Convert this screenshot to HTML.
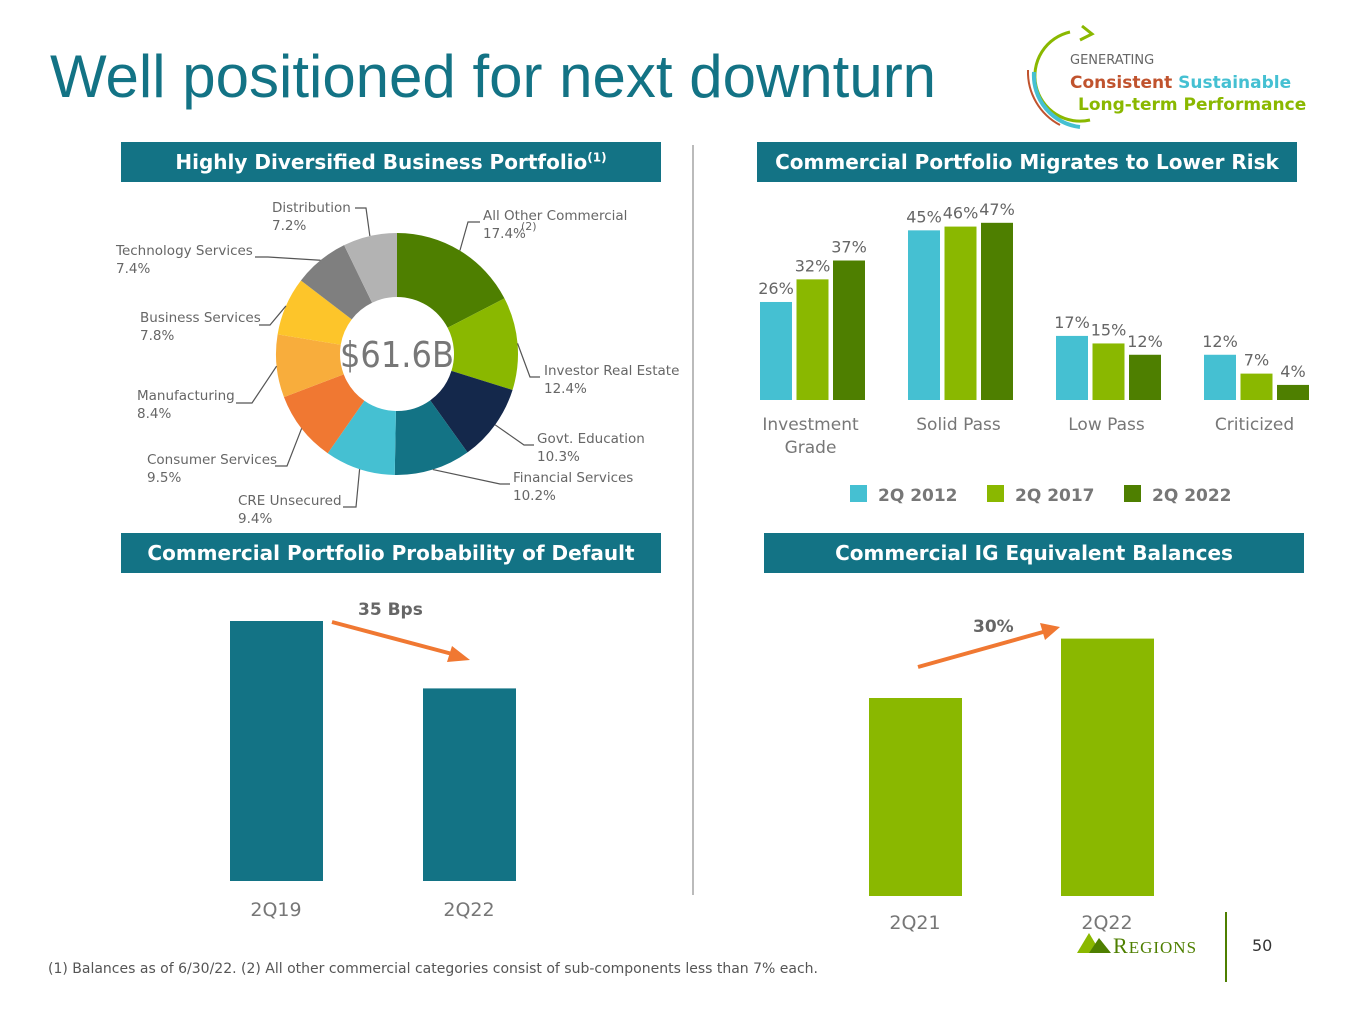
<!DOCTYPE html>
<html><head><meta charset="utf-8">
<style>
body{margin:0;width:1365px;height:1024px;background:#fff;font-family:"DejaVu Sans","Liberation Sans",sans-serif;position:relative;overflow:hidden}
.abs{position:absolute}
.hdr{position:absolute;background:#137385;color:#fff;font-weight:bold;font-size:20px;text-align:center;line-height:40px;height:40px}
</style></head><body>
<div class="abs" style="left:50px;top:42px;font-size:60px;color:#137385;font-family:'Liberation Sans',sans-serif;line-height:70px">Well positioned for next downturn</div>
<svg class="abs" style="left:1020px;top:20px" width="80" height="110">
<path d="M50,12 A45,45 0 1 0 70,100" fill="none" stroke="#8ab800" stroke-width="3"/>
<path d="M62,6 L72,14 L60,20" fill="none" stroke="#8ab800" stroke-width="3"/>
<path d="M14,52 A52,52 0 0 0 60,107" fill="none" stroke="#45c0d2" stroke-width="4"/>
<path d="M8,50 A60,60 0 0 0 40,105" fill="none" stroke="#c0532e" stroke-width="2"/>
</svg>
<div class="abs" style="left:1070px;top:50px;font-family:'DejaVu Sans',sans-serif;font-weight:bold;line-height:22px">
<div style="font-size:13px;color:#666;font-weight:normal">GENERATING</div>
<div style="font-size:17px"><span style="color:#c0532e">Consistent</span> <span style="color:#45c0d2">Sustainable</span></div>
<div style="font-size:17px;color:#8ab800;margin-left:8px">Long-term Performance</div></div>

<div class="hdr" style="left:121px;top:142px;width:540px">Highly Diversified Business Portfolio<sup style="font-size:12px;line-height:0">(1)</sup></div>
<div class="hdr" style="left:757px;top:142px;width:540px">Commercial Portfolio Migrates to Lower Risk</div>
<div class="hdr" style="left:121px;top:533px;width:540px">Commercial Portfolio Probability of Default</div>
<div class="hdr" style="left:764px;top:533px;width:540px">Commercial IG Equivalent Balances</div>
<div class="abs" style="left:692px;top:145px;width:2px;height:750px;background:#bbb"></div>

<svg class="abs" id="donut" style="left:0;top:0" width="700" height="530"></svg>
<svg class="abs" id="bars" style="left:700px;top:180px" width="665" height="340"></svg>
<svg class="abs" id="pd" style="left:0;top:590px" width="690" height="340"></svg>
<svg class="abs" id="ig" style="left:700px;top:590px" width="665" height="350"></svg>

<div class="abs" style="left:48px;top:961px;font-size:14px;color:#555">(1) Balances as of 6/30/22. (2) All other commercial categories consist of sub-components less than 7% each.</div>
<svg class="abs" style="left:1075px;top:930px" width="40" height="25"><polygon points="2,23 14,3 26,23" fill="#8ab800"/><polygon points="14,23 24,8 36,23" fill="#4e7f00"/></svg>
<div class="abs" style="left:1113px;top:933px;font-family:'Liberation Serif',serif;font-size:22px;color:#4e7f00;letter-spacing:1px">R<span style="font-size:17px">EGIONS</span></div>
<div class="abs" style="left:1225px;top:912px;width:2px;height:70px;background:#4e7f00"></div>
<div class="abs" style="left:1252px;top:936px;font-size:16px;color:#333">50</div>

<script>
const NS="http://www.w3.org/2000/svg";
function mk(p,t,a){const e=document.createElementNS(NS,t);for(const k in a)e.setAttribute(k,a[k]);p.appendChild(e);return e;}
// donut
const sliceNames=["All Other Commercial","Investor Real Estate","Govt. Education","Financial Services","CRE Unsecured","Consumer Services","Manufacturing","Business Services","Technology Services","Distribution"];
const sliceValues=[17.4,12.4,10.3,10.2,9.4,9.5,8.4,7.8,7.4,7.2];
const sliceColors=["#4e7f00","#8ab800","#14284b","#137385","#45c0d2","#f07832","#f8ad3c","#fdc52a","#7f7f7f","#b3b3b3"];
const labelPos=[[483,207],[544,362],[537,430],[513,469],[238,492],[147,451],[137,387],[140,309],[116,242],[272,199]];
// elbow points: [tickStartX, tickEndX, y]
const elbows=[[480,468,222],[540,530,377],[534,524,445],[510,500,484],[343,356,507],[275,287,466],[236,252,403],[259,270,325],[255,268,257],[355,366,208]];
const d=document.getElementById('donut');
const cx=397,cy=354,R=121,r=57;
let tot=sliceValues.reduce((a,b)=>a+b,0),acc=0;
sliceValues.forEach((v,i)=>{
 const a0=acc/tot*2*Math.PI-Math.PI/2;acc+=v;const a1=acc/tot*2*Math.PI-Math.PI/2;
 const lg=(a1-a0)>Math.PI?1:0;
 const p=(ang,rad)=>[cx+rad*Math.cos(ang),cy+rad*Math.sin(ang)];
 const [x0,y0]=p(a0,R),[x1,y1]=p(a1,R),[x2,y2]=p(a1,r),[x3,y3]=p(a0,r);
 const s=mk(d,'path',{d:`M${x0},${y0}A${R},${R} 0 ${lg} 1 ${x1},${y1}L${x2},${y2}A${r},${r} 0 ${lg} 0 ${x3},${y3}Z`,fill:sliceColors[i]});
 
 
 const am=(a0+a1)/2,[ex,ey]=p(am,R);
 const [lx,ly]=labelPos[i];
 const [t0,t1,ty]=elbows[i];
 const ln=mk(d,'polyline',{points:`${t0},${ty} ${t1},${ty} ${ex},${ey}`,fill:'none',stroke:'#555','stroke-width':1.2});
 
 
 const t=mk(d,'text',{x:lx,y:ly+13,'font-size':13.5,fill:'#666','font-family':'DejaVu Sans, sans-serif'});
 
 
 t.textContent=sliceNames[i];
 const t2=mk(d,'text',{x:lx,y:ly+31,'font-size':13.5,fill:'#666','font-family':'DejaVu Sans, sans-serif'});
 
 
 t2.textContent=v.toFixed(1)+'%';
});
const sup=mk(d,'text',{x:521,y:230,'font-size':11,fill:'#666'});sup.textContent='(2)';


const ct=mk(d,'text',{x:cx,y:cy+13,'font-size':36,fill:'#777','text-anchor':'middle','font-family':'DejaVu Sans, sans-serif','textLength':114,'lengthAdjust':'spacingAndGlyphs'});


ct.textContent='$61.6B';

// grouped bars
const categories=["Investment|Grade","Solid Pass","Low Pass","Criticized"];
const series2012=[26,45,17,12];
const series2017=[32,46,15,7];
const series2022=[37,47,12,4];
const seriesNames=["2Q 2012","2Q 2017","2Q 2022"];
const seriesColors=["#45c0d2","#8ab800","#4e7f00"];
const b=document.getElementById('bars');
const base=220,ys=v=>base-v*3.77,gx=i=>60+i*148,bw=32,bs=36.5;
[series2012,series2017,series2022].forEach((s,si)=>s.forEach((v,i)=>{
 const x=gx(i)+si*bs;
 const rc=mk(b,'rect',{x:x,y:ys(v),width:bw,height:base-ys(v),fill:seriesColors[si]});
 
 
 const t=mk(b,'text',{x:x+bw/2,y:ys(v)-8,'font-size':16,fill:'#666','text-anchor':'middle'});
 
 
 t.textContent=v+'%';
}));
categories.forEach((c,i)=>{c.split('|').forEach((ln,j)=>{
 const t=mk(b,'text',{x:gx(i)+bs+bw/2-2,y:250+j*23,'font-size':17,fill:'#777','text-anchor':'middle'});
 
 
 t.textContent=ln;});});
seriesNames.forEach((n,i)=>{
 const x=150+i*137;
 const rc=mk(b,'rect',{x:x,y:305,width:17,height:17,fill:seriesColors[i]});
 
 
 const t=mk(b,'text',{x:x+28,y:321,'font-size':17,'font-weight':'bold',fill:'#777'});
 
 
 t.textContent=n;});

// PD chart
const pdCats=["2Q19","2Q22"];
const pdValues=[135,100];
const p=document.getElementById('pd');
const pdBase=291,pdS=260/135,pdX=i=>230+i*193;
pdValues.forEach((v,i)=>{
 const rc=mk(p,'rect',{x:pdX(i),y:pdBase-v*pdS,width:93,height:v*pdS,fill:'#137385'});
 
 
 const t=mk(p,'text',{x:pdX(i)+46,y:326,'font-size':19,fill:'#777','text-anchor':'middle'});
 
 
 t.textContent=pdCats[i];});
let a=mk(p,'line',{x1:332,y1:32,x2:456,y2:65,stroke:'#f07832','stroke-width':4});

mk(p,'polygon',{points:'470,70 452,56 447,72',fill:'#f07832'});
let t=mk(p,'text',{x:358,y:25,'font-size':17,'font-weight':'bold',fill:'#666'});t.textContent='35 Bps';


// IG chart
const igCats=["2Q21","2Q22"];
const igValues=[100,130];
const g=document.getElementById('ig');
const igBase=306,igS=198/100,igX=i=>169+i*192;
igValues.forEach((v,i)=>{
 const rc=mk(g,'rect',{x:igX(i),y:igBase-v*igS,width:93,height:v*igS,fill:'#8ab800'});
 
 
 const tt=mk(g,'text',{x:igX(i)+46,y:339,'font-size':19,fill:'#777','text-anchor':'middle'});
 
 
 tt.textContent=igCats[i];});
a=mk(g,'line',{x1:218,y1:77,x2:343,y2:42,stroke:'#f07832','stroke-width':4});

mk(g,'polygon',{points:'360,37 340,33 345,50',fill:'#f07832'});
t=mk(g,'text',{x:273,y:42,'font-size':17,'font-weight':'bold',fill:'#666'});t.textContent='30%';

</script>
</body></html>
